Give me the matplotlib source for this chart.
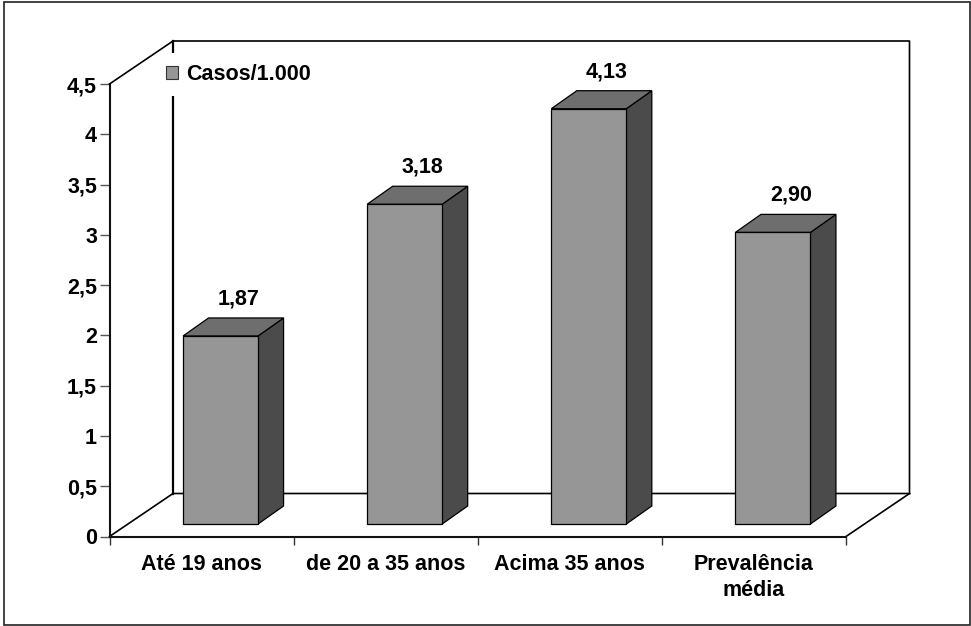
import matplotlib
matplotlib.use("Agg")
import matplotlib.pyplot as plt
from matplotlib.patches import Polygon, Patch, Rectangle

categories = ["Até 19 anos", "de 20 a 35 anos", "Acima 35 anos", "Prevalência\nmédia"]
casos = [1.87, 3.18, 4.13, 2.90]
value_labels = ["1,87", "3,18", "4,13", "2,90"]
y_ticks = [0, 0.5, 1, 1.5, 2, 2.5, 3, 3.5, 4, 4.5]
y_tick_labels = ["0", "0,5", "1", "1,5", "2", "2,5", "3", "3,5", "4", "4,5"]

W, H = 971, 626
plt.rcParams["font.family"] = ["Liberation Sans", "DejaVu Sans"]
plt.rcParams["font.weight"] = "bold"
plt.rcParams["font.size"] = 15.5

fig = plt.figure(figsize=(W / 100, H / 100), dpi=100)
fig.add_artist(Rectangle((3.5 / W, 1 - 624.5 / H), 966.5 / W, 623 / H, transform=fig.transFigure,
                         fill=False, edgecolor="#222222", linewidth=1.2))

# front plane of the chart box, everything else is offset from it
left, right, y0, y45 = 109.5, 846.0, 536.5, 84.0
ax = fig.add_axes([left / W, 1 - y0 / H, (right - left) / W, (y0 - y45) / H])
ax.set_xlim(0, 4)
ax.set_ylim(0, 4.5)
ax.patch.set_visible(False)

xpx = 4 / (right - left)
ypx = 4.5 / (y0 - y45)


def off(x, y, dx, dy):
    # dx, dy in pixels, right and up
    return (x + dx * xpx, y + dy * ypx)


# back wall and floor
wall_dx, wall_dy = 63.5, 43.0
wall = [(0, 4.5), off(0, 4.5, wall_dx, wall_dy), off(4, 4.5, wall_dx, wall_dy), off(4, 0, wall_dx, wall_dy),
        off(0, 0, wall_dx, wall_dy)]
# the outline stays above the legend box, the left wall edge goes under it
ax.plot([p[0] for p in wall[:4]], [p[1] for p in wall[:4]], color="black", lw=1.2, clip_on=False, zorder=3)
ax.plot([wall[3][0], wall[4][0], 0], [wall[3][1], wall[4][1], 0], color="black", lw=1.2, clip_on=False, zorder=1)
ax.plot([4, wall[3][0]], [0, wall[3][1]], color="black", lw=1.2, clip_on=False, zorder=1)
ax.plot([wall[1][0], wall[4][0]], [wall[1][1], wall[4][1]], color="black", lw=1.6, clip_on=False, zorder=1)

# bars, drawn as three faces
bar_w = 75
shift_x, shift_y = 19.0, 12.5
depth_x, depth_y = 25.5, 18
for i, v in enumerate(casos):
    cx = i + 0.5
    x0, b0 = off(cx, 0, shift_x - bar_w / 2, shift_y)
    x1 = x0 + bar_w * xpx
    top = b0 + v * 1.0
    front = [(x0, b0), (x1, b0), (x1, top), (x0, top)]
    side = [(x1, b0), off(x1, b0, depth_x, depth_y), off(x1, top, depth_x, depth_y), (x1, top)]
    cap = [(x0, top), (x1, top), off(x1, top, depth_x, depth_y), off(x0, top, depth_x, depth_y)]
    ax.add_patch(Polygon(side, facecolor="#4b4b4b", edgecolor="black", lw=0.9, clip_on=False, zorder=3))
    ax.add_patch(Polygon(cap, facecolor="#6e6e6e", edgecolor="black", lw=0.9, clip_on=False, zorder=3))
    ax.add_patch(Polygon(front, facecolor="#969696", edgecolor="black", lw=0.9, clip_on=False, zorder=4))
    lx, ly = off(cx, top, shift_x + 18.0, 37)
    ax.text(lx, ly, value_labels[i], ha="center", va="center", zorder=5)

for s in ["top", "right"]:
    ax.spines[s].set_visible(False)
for s in ["left", "bottom"]:
    ax.spines[s].set_linewidth(1.5)
    ax.spines[s].set_color("#111111")

ax.set_yticks(y_ticks)
ax.set_yticklabels(y_tick_labels)
ax.tick_params(axis="y", length=7, width=1, color="#555555", pad=2)
ax.set_xticks([0, 1, 2, 3, 4])
ax.set_xticklabels([])
ax.tick_params(axis="x", length=6, width=1, color="#333333")
for i, c in enumerate(categories):
    ax.annotate(c, (i + 0.5, 0), xytext=(0, -12.5), textcoords="offset points",
                ha="center", va="top", linespacing=1.3)

leg = ax.legend(handles=[Patch(facecolor="#969696", edgecolor="#333333", lw=0.8, label="Casos/1.000")],
                loc="center left", bbox_to_anchor=(155 / W, 1 - 74.5 / H), bbox_transform=fig.transFigure,
                frameon=True, framealpha=1, edgecolor="none", facecolor="white", fancybox=False,
                handlelength=0.55, handleheight=0.55, handletextpad=0.38, borderpad=0.5, borderaxespad=0)
leg.set_zorder(2)

fig.savefig("out.png", dpi=100)
